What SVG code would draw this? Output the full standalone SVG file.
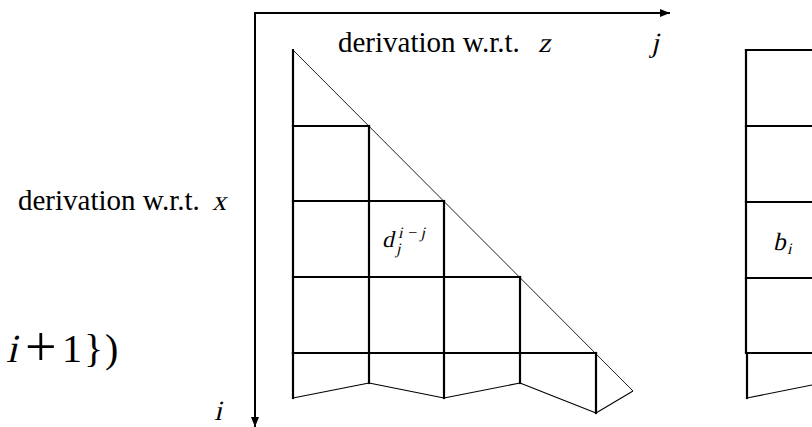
<svg xmlns="http://www.w3.org/2000/svg" width="812" height="427" viewBox="0 0 812 427">
<style>
.grid{fill:none;stroke:#000;stroke-width:2.2;stroke-linecap:square}
.thin{fill:none;stroke:#000;stroke-width:1.1;stroke-linejoin:round}
.diag{fill:none;stroke:#222;stroke-width:1}
.axis{fill:none;stroke:#000;stroke-width:2}
.t{font-family:"Liberation Serif","Times New Roman",serif;font-size:29px;fill:#000}
.m{font-family:"Liberation Serif","Times New Roman",serif;font-style:normal;fill:#000}
</style>
<defs>
<marker id="ah" markerWidth="10" markerHeight="8" refX="10" refY="4" orient="auto" markerUnits="userSpaceOnUse">
<path d="M0,0 L10,4 L0,8 Z" fill="#000"/>
</marker>
</defs>
<rect width="812" height="427" fill="#fff"/>

<g id="axes">
<line class="axis" x1="255" y1="13" x2="670" y2="13" marker-end="url(#ah)"/>
<line class="axis" x1="255" y1="12" x2="255" y2="427" marker-end="url(#ah)"/>
</g>

<g id="triangle">
<line class="diag" x1="293" y1="50" x2="633" y2="391"/>
<line class="grid" x1="293" y1="50" x2="293" y2="353"/>
<line class="grid" x1="293" y1="126" x2="369" y2="126"/>
<line class="grid" x1="293" y1="201" x2="444" y2="201"/>
<line class="grid" x1="293" y1="277" x2="520" y2="277"/>
<line class="grid" x1="293" y1="353" x2="596" y2="353"/>
<line class="grid" x1="369" y1="126" x2="369" y2="353"/>
<line class="grid" x1="444" y1="201" x2="444" y2="353"/>
<line class="grid" x1="520" y1="277" x2="520" y2="353"/>
</g>

<g id="bottom-row">
<line class="grid" x1="293" y1="353" x2="293" y2="398"/>
<line class="grid" x1="369" y1="353" x2="369" y2="383"/>
<line class="grid" x1="444" y1="353" x2="444" y2="398"/>
<line class="grid" x1="520" y1="353" x2="520" y2="383"/>
<line class="grid" x1="596" y1="353" x2="596" y2="413"/>
<polyline class="thin" points="293,398 369,383 444,398 520,383 596,413 633,391"/>
</g>

<g id="vector-b">
<line class="grid" x1="746" y1="50" x2="746" y2="352"/>
<line class="grid" x1="746" y1="50" x2="813" y2="50"/>
<line class="grid" x1="746" y1="126" x2="813" y2="126"/>
<line class="grid" x1="746" y1="202" x2="813" y2="202"/>
<line class="grid" x1="746" y1="278" x2="813" y2="278"/>
<line class="grid" x1="746" y1="353" x2="813" y2="353"/>
<line class="grid" x1="747" y1="354" x2="747" y2="398"/>
<polyline class="thin" points="747,398 812,385"/>
<text class="m" transform="translate(773,250) skewX(-13)" font-size="25">b</text>
<text class="m" transform="translate(787,254) skewX(-13)" font-size="16">i</text>
</g>

<g id="labels">
<text class="t" x="338" y="52">derivation w.r.t.</text>
<text class="m" transform="translate(538,52) skewX(-13)" font-size="28">z</text>
<text class="m" transform="translate(651,52) skewX(-13)" font-size="28">j</text>
<text class="t" x="18" y="210">derivation w.r.t.</text>
<text class="m" transform="translate(212,210) skewX(-13)" font-size="28">x</text>
<text class="m" transform="translate(214,420) skewX(-13)" font-size="28">i</text>
</g>

<g id="cell-d">
<text class="m" transform="translate(382,247) skewX(-13)" font-size="23">d</text>
<text class="m" transform="translate(398,238) skewX(-13)" font-size="16" textLength="27" lengthAdjust="spacing">i−j</text>
<text class="m" transform="translate(396,254) skewX(-13)" font-size="16">j</text>
</g>

<g id="formula">
<text class="m" transform="translate(6,362) skewX(-13)" font-size="40">i</text>
<text class="m" x="25" y="366" font-size="56">+</text>
<text class="m" x="62" y="362" font-size="40">1</text>
<text class="m" x="84" y="362" font-size="40">}</text>
<text class="m" x="105" y="362" font-size="40">)</text>
</g>
</svg>
